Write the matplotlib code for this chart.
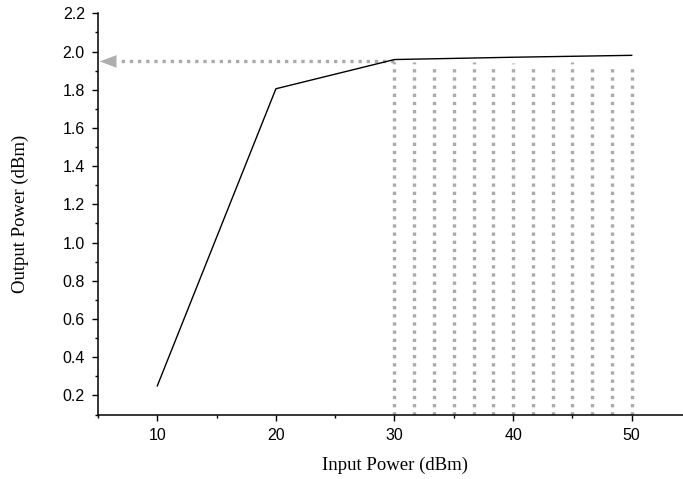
import matplotlib
matplotlib.use("Agg")
import matplotlib.pyplot as plt
from matplotlib.ticker import MultipleLocator

# Data
input_power = [10, 20, 30, 40, 50]
output_power = [0.25, 1.805, 1.958, 1.970, 1.980]

vline_x = [30, 31.67, 33.33, 35, 36.67, 38.33, 40, 41.67, 43.33, 45, 46.67, 48.33, 50]
vline_top = [1.945, 1.945, 1.935, 1.935, 1.945, 1.925, 1.94, 1.925, 1.935, 1.945, 1.935, 1.925, 1.935]

arrow_y = 1.948
arrow_start_x = 30
arrow_tip_x = 5.15

xlabel = "Input Power (dBm)"
ylabel = "Output Power (dBm)"
xticks = [10, 20, 30, 40, 50]
yticks = [0.2, 0.4, 0.6, 0.8, 1.0, 1.2, 1.4, 1.6, 1.8, 2.0, 2.2]

fig = plt.figure(figsize=(6.83, 4.79), dpi=100)
ax = fig.add_axes([98/683, (479-414.5)/479, (691-98)/683, (414.5-13.3)/479])

grey = "#ababab"
ymin = 0.1
dots = (0, (1, 1.45))
for x, t in zip(vline_x, vline_top):
    ax.plot([x, x], [ymin, t], color=grey, lw=2.4, linestyle=dots,
            dash_capstyle="butt", zorder=2)

# dotted arrow
ax.plot([arrow_start_x, arrow_tip_x + 1.55], [arrow_y, arrow_y], color=grey, lw=2.4,
        linestyle=dots, dash_capstyle="butt", zorder=2)
ax.annotate("", xy=(arrow_tip_x, arrow_y), xytext=(arrow_tip_x + 4, arrow_y),
            arrowprops=dict(arrowstyle="-|>,head_length=1.2,head_width=0.45",
                            mutation_scale=10, color="#aeaeae", lw=0.01,
                            shrinkA=0, shrinkB=0), zorder=3)

ax.plot(input_power, output_power, color="black", lw=1.0, zorder=4)

ax.set_xlim(5, 55)
ax.set_ylim(ymin, 2.2)
ax.set_xticks(xticks)
ax.set_yticks(yticks)
ax.set_yticklabels([f"{v:.1f}" for v in yticks])
ax.xaxis.set_minor_locator(MultipleLocator(5))
ax.yaxis.set_minor_locator(MultipleLocator(0.1))

for s in ["top", "right"]:
    ax.spines[s].set_visible(False)
for s in ["left", "bottom"]:
    ax.spines[s].set_linewidth(1.1)

tick_font = "Liberation Sans"
ax.tick_params(which="major", direction="out", length=4.5, width=1.0, labelsize=11.5, pad=5)
ax.tick_params(which="minor", direction="out", length=2.5, width=1.0)
for lab in ax.get_xticklabels() + ax.get_yticklabels():
    lab.set_family(tick_font)

ax.set_xlabel(xlabel, family="Liberation Serif", fontsize=13.5, labelpad=10)
ax.set_ylabel(ylabel, family="Liberation Serif", fontsize=13.5, labelpad=24)

fig.savefig("out.png", dpi=100)
